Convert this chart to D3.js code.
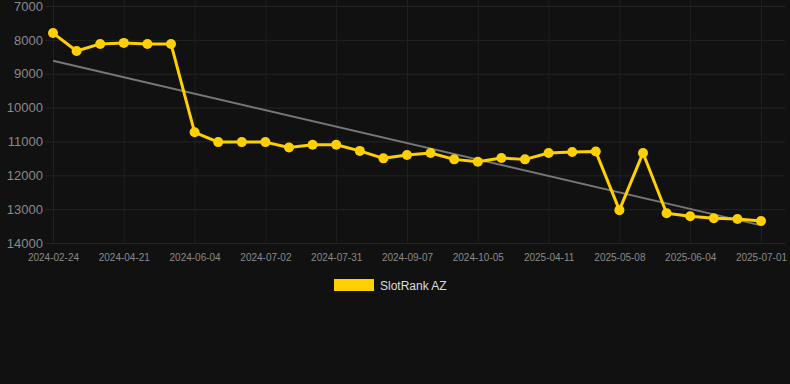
<!DOCTYPE html>
<html lang="en">
<head>
	<meta charset="UTF-8">
	<title>SlotRank AZ</title>
	<style type="text/css">
		body { margin: 0; background: #111111; }
		text { font-family: "Liberation Sans", Arial, sans-serif; }
	</style>
</head>
<body>
	<div id="chart"></div>

	<script src="https://d3js.org/d3.v7.min.js"></script>
	<script>
		// dates, 31 points, every third one labelled
		var dates = [
			'2024-02-24', '2024-03-10', '2024-03-27', '2024-04-21', '2024-05-05', '2024-05-19',
			'2024-06-04', '2024-06-13', '2024-06-22', '2024-07-02', '2024-07-12', '2024-07-21',
			'2024-07-31', '2024-08-12', '2024-08-25', '2024-09-07', '2024-09-16', '2024-09-25',
			'2024-10-05', '2024-11-20', '2025-03-02', '2025-04-11', '2025-04-20', '2025-04-29',
			'2025-05-08', '2025-05-17', '2025-05-26', '2025-06-04', '2025-06-13', '2025-06-22',
			'2025-07-01'
		];
		var ranks = [
			7800, 8330, 8120, 8090, 8120, 8120,
			10730, 11020, 11020, 11020, 11180, 11100,
			11100, 11280, 11500, 11400, 11340, 11530,
			11600, 11490, 11530, 11340, 11310, 11300,
			13030, 11340, 13120, 13210, 13270, 13290,
			13350
		];
		var trend = [8620, 13480]; // first and last value of the trend line
		var yTicks = [7000, 8000, 9000, 10000, 11000, 12000, 13000, 14000];
		var seriesName = 'SlotRank AZ';

		var width = 790, height = 384;

		var svg = d3.select('#chart')
			.append('svg')
			.attr('width', width)
			.attr('height', height);

		var xScale = d3.scalePoint()
			.domain(dates)
			.range([53, 761]);

		var yScale = d3.scaleLinear()
			.domain([7000, 14000])
			.range([6, 243]);

		var labelled = dates.filter((d, i) => i % 3 === 0);

		// grid
		svg.append('g')
			.attr('transform', 'translate(45, 0)')
			.call(d3.axisLeft(yScale).tickValues(yTicks).tickSize(-740).tickFormat(''))
			.call(g => g.select('.domain').remove())
			.selectAll('line').attr('stroke', '#242424');

		svg.append('g')
			.attr('transform', 'translate(0, 243)')
			.call(d3.axisBottom(xScale).tickValues(labelled).tickSize(-243).tickFormat(''))
			.call(g => g.select('.domain').remove())
			.selectAll('line').attr('stroke', '#1f1f1f');

		// y labels
		svg.append('g')
			.attr('transform', 'translate(45, 0)')
			.call(d3.axisLeft(yScale).tickValues(yTicks).tickSize(0).tickPadding(2).tickFormat(d3.format('d')))
			.call(g => g.select('.domain').remove())
			.selectAll('text')
			.attr('fill', '#8a8a8a')
			.style('font-size', '13px');

		// x labels
		svg.append('g')
			.attr('transform', 'translate(0, 243)')
			.call(d3.axisBottom(xScale).tickValues(labelled).tickSize(0).tickPadding(11))
			.call(g => g.select('.domain').remove())
			.selectAll('text')
			.attr('fill', '#8a8a8a')
			.style('font-size', '10px');

		// trend line
		svg.append('line')
			.attr('x1', xScale(dates[0]))
			.attr('y1', yScale(trend[0]))
			.attr('x2', xScale(dates[dates.length - 1]))
			.attr('y2', yScale(trend[1]))
			.attr('stroke', '#777777')
			.attr('stroke-width', 2);

		var lineGen = d3.line()
			.x((d, i) => xScale(dates[i]))
			.y(d => yScale(d));

		svg.append('path')
			.datum(ranks)
			.attr('d', lineGen)
			.attr('fill', 'none')
			.attr('stroke', '#FFD000')
			.attr('stroke-width', 3)
			.attr('stroke-linejoin', 'round');

		svg.selectAll('circle.pt')
			.data(ranks)
			.enter()
			.append('circle')
			.attr('class', 'pt')
			.attr('cx', (d, i) => xScale(dates[i]))
			.attr('cy', d => yScale(d))
			.attr('r', 5)
			.attr('fill', '#FFD000');

		// legend
		var legend = svg.append('g').attr('transform', 'translate(334, 279)');
		legend.append('rect')
			.attr('width', 40)
			.attr('height', 12)
			.attr('fill', '#FFD000');
		legend.append('text')
			.attr('x', 46)
			.attr('y', 10.5)
			.attr('fill', '#dddddd')
			.style('font-size', '12px')
			.text(seriesName);
	</script>
</body>
</html>
